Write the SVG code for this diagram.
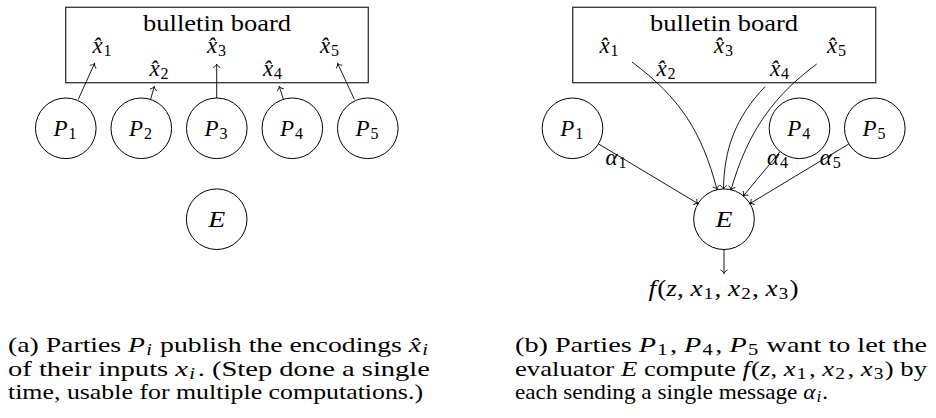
<svg xmlns="http://www.w3.org/2000/svg" width="936" height="418" viewBox="0 0 936 418">
<defs>
<style>
text{font-family:'Liberation Serif','Times New Roman',serif;fill:#000}
.t{font-size:23px}
.cap{font-size:22px}
.m{font-style:italic}
.s{font-size:16px;font-style:normal}
.si{font-size:16px;font-style:italic}
.node{fill:#fff;stroke:#000;stroke-width:1}
.box{fill:none;stroke:#333;stroke-width:1.3}
.e{fill:none;stroke:#000;stroke-width:0.9;marker-end:url(#to)}
</style>
<marker id="to" viewBox="-6 -6 12 12" markerWidth="12" markerHeight="12" refX="0" refY="0" orient="auto" markerUnits="userSpaceOnUse">
<path d="M-3.4,-3.2 C-2.4,-1.3 -0.9,-0.3 0,0 C-0.9,0.3 -2.4,1.3 -3.4,3.2" fill="none" stroke="#000" stroke-width="0.9" stroke-linecap="round"/>
</marker>
</defs>

<!-- Panel (a) -->
<g id="a-board">
<rect class="box" x="65.7" y="7.3" width="302.6" height="75.4"/>
<text class="t" x="217" y="31" text-anchor="middle" textLength="148" lengthAdjust="spacingAndGlyphs">bulletin board</text>
<text class="t" x="102" y="53" text-anchor="middle"><tspan class="m">x̂</tspan><tspan class="s" dy="3" dx="1">1</tspan></text>
<text class="t" x="159" y="76" text-anchor="middle"><tspan class="m">x̂</tspan><tspan class="s" dy="3" dx="1">2</tspan></text>
<text class="t" x="216.5" y="53" text-anchor="middle"><tspan class="m">x̂</tspan><tspan class="s" dy="3" dx="1">3</tspan></text>
<text class="t" x="272.5" y="76" text-anchor="middle"><tspan class="m">x̂</tspan><tspan class="s" dy="3" dx="1">4</tspan></text>
<text class="t" x="329.5" y="53" text-anchor="middle"><tspan class="m">x̂</tspan><tspan class="s" dy="3" dx="1">5</tspan></text>
</g>
<g id="a-P1"><circle class="node" cx="65.8" cy="128.3" r="30.3"/><text class="t" x="65" y="136" text-anchor="middle"><tspan class="m">P</tspan><tspan class="s" dy="3" dx="1">1</tspan></text></g>
<g id="a-P2"><circle class="node" cx="141.3" cy="128.3" r="30.3"/><text class="t" x="140.5" y="136" text-anchor="middle"><tspan class="m">P</tspan><tspan class="s" dy="3" dx="1">2</tspan></text></g>
<g id="a-P3"><circle class="node" cx="216.8" cy="128.3" r="30.3"/><text class="t" x="216" y="136" text-anchor="middle"><tspan class="m">P</tspan><tspan class="s" dy="3" dx="1">3</tspan></text></g>
<g id="a-P4"><circle class="node" cx="292.3" cy="128.3" r="30.3"/><text class="t" x="291.5" y="136" text-anchor="middle"><tspan class="m">P</tspan><tspan class="s" dy="3" dx="1">4</tspan></text></g>
<g id="a-P5"><circle class="node" cx="367.8" cy="128.3" r="30.3"/><text class="t" x="367" y="136" text-anchor="middle"><tspan class="m">P</tspan><tspan class="s" dy="3" dx="1">5</tspan></text></g>
<g id="a-E"><circle class="node" cx="216.7" cy="219.2" r="30.3"/><text class="t m" x="216.7" y="227" text-anchor="middle" textLength="17" lengthAdjust="spacingAndGlyphs">E</text></g>

<g id="a-edges">
<path class="e" d="M78.3,99.3 L94.5,63.5"/>
<path class="e" d="M150.7,99 L154.3,86.5"/>
<path class="e" d="M216.7,98 L216.7,64"/>
<path class="e" d="M283.3,99 L279.3,86.5"/>
<path class="e" d="M354.3,99.3 L337.7,63.5"/>
</g>

<!-- Panel (b) -->
<g id="b-board">
<rect class="box" x="572.7" y="7.3" width="303" height="75.4"/>
<text class="t" x="724" y="31" text-anchor="middle" textLength="148" lengthAdjust="spacingAndGlyphs">bulletin board</text>
<text class="t" x="609" y="53" text-anchor="middle"><tspan class="m">x̂</tspan><tspan class="s" dy="3" dx="1">1</tspan></text>
<text class="t" x="666" y="76" text-anchor="middle"><tspan class="m">x̂</tspan><tspan class="s" dy="3" dx="1">2</tspan></text>
<text class="t" x="723.5" y="53" text-anchor="middle"><tspan class="m">x̂</tspan><tspan class="s" dy="3" dx="1">3</tspan></text>
<text class="t" x="779.5" y="76" text-anchor="middle"><tspan class="m">x̂</tspan><tspan class="s" dy="3" dx="1">4</tspan></text>
<text class="t" x="836.5" y="53" text-anchor="middle"><tspan class="m">x̂</tspan><tspan class="s" dy="3" dx="1">5</tspan></text>
</g>
<g id="b-P1"><circle class="node" cx="572.5" cy="128.3" r="30.3"/><text class="t" x="571.7" y="136" text-anchor="middle"><tspan class="m">P</tspan><tspan class="s" dy="3" dx="1">1</tspan></text></g>
<g id="b-P4"><circle class="node" cx="799.5" cy="128.3" r="30.3"/><text class="t" x="798.7" y="136" text-anchor="middle"><tspan class="m">P</tspan><tspan class="s" dy="3" dx="1">4</tspan></text></g>
<g id="b-P5"><circle class="node" cx="874.8" cy="128.3" r="30.3"/><text class="t" x="874" y="136" text-anchor="middle"><tspan class="m">P</tspan><tspan class="s" dy="3" dx="1">5</tspan></text></g>
<g id="b-E"><circle class="node" cx="724" cy="219.2" r="30.3"/><text class="t m" x="724" y="227" text-anchor="middle" textLength="17" lengthAdjust="spacingAndGlyphs">E</text></g>
<g id="b-out"><text class="t" x="648.5" y="296" textLength="150" lengthAdjust="spacingAndGlyphs"><tspan class="m">f</tspan><tspan dx="1">(</tspan><tspan class="m">z</tspan>, <tspan class="m">x</tspan><tspan class="s" dy="3" dx="1">1</tspan><tspan dy="-3" dx="1">, </tspan><tspan class="m">x</tspan><tspan class="s" dy="3" dx="1">2</tspan><tspan dy="-3" dx="1">, </tspan><tspan class="m">x</tspan><tspan class="s" dy="3" dx="1">3</tspan><tspan dy="-3" dx="1">)</tspan></text></g>

<g id="b-edges">
<path class="e" d="M632,62 C680,98 701.5,131 717,189.5"/>
<path class="e" d="M765,86.7 C735,118 724,150 723.5,189"/>
<path class="e" d="M816.7,64 C775,95 748,130 731,190"/>
<path class="e" d="M598.5,143.9 L698,203.6"/>
<path class="e" d="M780.1,151.6 L743.4,195.9"/>
<path class="e" d="M848.9,143.9 L749.9,203.6"/>
<path class="e" d="M724,249.5 L724,273.5"/>
<text class="t" x="616" y="165" text-anchor="middle"><tspan class="m">α</tspan><tspan class="s" dy="3" dx="1">1</tspan></text>
<text class="t" x="777.5" y="165" text-anchor="middle"><tspan class="m">α</tspan><tspan class="s" dy="3" dx="1">4</tspan></text>
<text class="t" x="830.3" y="165" text-anchor="middle"><tspan class="m">α</tspan><tspan class="s" dy="3" dx="1">5</tspan></text>
</g>

<!-- Captions -->
<g id="caption-a">
<text class="cap" x="8" y="352" textLength="420" lengthAdjust="spacingAndGlyphs">(a) Parties <tspan class="m">P</tspan><tspan class="si" dy="3" dx="1">i</tspan><tspan dy="-3" dx="1"> publish the encodings </tspan><tspan class="m">x̂</tspan><tspan class="si" dy="3" dx="1">i</tspan></text>
<text class="cap" x="8" y="375.5" textLength="422" lengthAdjust="spacingAndGlyphs">of their inputs <tspan class="m">x</tspan><tspan class="si" dy="3" dx="1">i</tspan><tspan dy="-3" dx="2">. (Step done a single</tspan></text>
<text class="cap" x="8" y="399" textLength="415" lengthAdjust="spacingAndGlyphs">time, usable for multiple computations.)</text>
</g>
<g id="caption-b">
<text class="cap" x="515" y="352" textLength="412" lengthAdjust="spacingAndGlyphs">(b) Parties <tspan class="m">P</tspan><tspan class="s" dy="3" dx="1">1</tspan><tspan dy="-3" dx="2">, </tspan><tspan class="m">P</tspan><tspan class="s" dy="3" dx="1">4</tspan><tspan dy="-3" dx="2">, </tspan><tspan class="m">P</tspan><tspan class="s" dy="3" dx="1">5</tspan><tspan dy="-3" dx="1">  want to let the</tspan></text>
<text class="cap" x="515" y="375.5" textLength="412" lengthAdjust="spacingAndGlyphs">evaluator <tspan class="m">E</tspan> compute <tspan class="m">f</tspan><tspan dx="1">(</tspan><tspan class="m">z</tspan>, <tspan class="m">x</tspan><tspan class="s" dy="3" dx="1">1</tspan><tspan dy="-3" dx="2">, </tspan><tspan class="m">x</tspan><tspan class="s" dy="3" dx="1">2</tspan><tspan dy="-3" dx="2">, </tspan><tspan class="m">x</tspan><tspan class="s" dy="3" dx="1">3</tspan><tspan dy="-3" dx="1">) by</tspan></text>
<text class="cap" x="515" y="399" textLength="313" lengthAdjust="spacingAndGlyphs">each sending a single message <tspan class="m">α</tspan><tspan class="si" dy="3" dx="1">i</tspan><tspan dy="-3" dx="1">.</tspan></text>
</g>
</svg>
